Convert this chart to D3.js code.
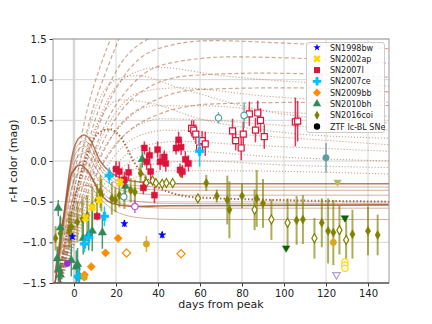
<!DOCTYPE html>
<html lang="en">
<head>
  <meta charset="UTF-8">
  <title>r-H color vs days from peak</title>
  <script src="https://d3js.org/d3.v7.min.js"></script>
  <style>
    body { margin: 0; background: #fff; }
    text { font-family: "DejaVu Sans", sans-serif; fill: #222; }
    .tick text { font-size: 10px; }
    .axis-label { font-size: 11px; }
    .legend text { font-size: 8px; }
  </style>
</head>
<body>
  <svg id="chart" width="432" height="324"></svg>

  <script>
    // axis setup
    const xTicks = [0, 20, 40, 60, 80, 100, 120, 140];
    const yTicks = [-1.5, -1.0, -0.5, 0.0, 0.5, 1.0, 1.5];

    // model curves: [day, r-H]
    const solidModels = [
      [[-9,-1.5],[-5,-0.7],[-1,0.05],[2,0.27],[5,0.32],[8,0.25],[12,0.02],[18,-0.15],[28,-0.25],[45,-0.28],[150,-0.28]],
      [[-9,-1.5],[-5,-0.72],[-1,0.0],[2,0.2],[5,0.25],[8,0.18],[12,-0.03],[18,-0.2],[28,-0.3],[45,-0.32],[150,-0.32]],
      [[-9,-1.5],[-5,-0.75],[-1,-0.05],[2,0.14],[5,0.18],[8,0.1],[12,-0.08],[18,-0.24],[28,-0.33],[45,-0.36],[150,-0.36]],
      [[-9,-1.5],[-5,-0.78],[-1,-0.12],[2,0.06],[5,0.1],[8,0.02],[12,-0.15],[18,-0.3],[28,-0.39],[45,-0.42],[150,-0.42]],
      [[-9,-1.5],[-5,-0.82],[-1,-0.2],[2,-0.03],[5,0.0],[8,-0.08],[12,-0.25],[18,-0.4],[28,-0.49],[45,-0.52],[150,-0.52]],
      [[-9,-1.5],[-5,-0.88],[-1,-0.32],[2,-0.15],[5,-0.12],[8,-0.2],[12,-0.35],[18,-0.48],[28,-0.55],[45,-0.58],[150,-0.58]],
      [[-9,-1.5],[-5,-0.95],[-1,-0.5],[3,-0.32],[7,-0.3],[12,-0.45],[20,-0.62],[32,-0.7],[50,-0.72],[150,-0.72]]
    ];
    const darkSolid = [[-9,-1.38],[-5,-0.7],[-1,-0.15],[3,-0.05],[7,-0.14],[12,-0.38],[18,-0.52],[28,-0.56],[45,-0.55],[150,-0.54]];

    const dashedModels = [
      [[-9,-1.7],[-2,-0.5],[6,0.6],[13,1.2],[19,1.6]],
      [[-9,-1.7],[-1,-0.5],[8,0.55],[16,1.15],[23,1.6]],
      [[-9,-1.7],[0,-0.5],[10,0.5],[20,1.1],[32,1.45],[50,1.6]],
      [[-9,-1.7],[1,-0.5],[12,0.45],[24,1.05],[40,1.38],[65,1.48],[100,1.45],[150,1.38]],
      [[-9,-1.7],[2,-0.5],[14,0.4],[28,0.95],[45,1.2],[75,1.28],[110,1.26],[150,1.2]],
      [[-9,-1.7],[3,-0.5],[16,0.35],[32,0.85],[55,1.05],[90,1.08],[150,1.03]],
      [[-9,-1.7],[4,-0.5],[18,0.3],[35,0.7],[60,0.88],[100,0.9],[150,0.85]],
      [[-9,-1.7],[5,-0.5],[20,0.2],[38,0.55],[65,0.7],[105,0.72],[150,0.68]]
    ];

    const dottedModels = [
      [[-9,-1.7],[0,-0.6],[8,0.2],[16,0.75],[26,1.05],[40,1.15],[70,1.05],[150,0.92]],
      [[-9,-1.7],[-1,-0.5],[6,0.3],[12,0.75],[20,1.0],[30,1.05],[50,0.9],[90,0.62],[150,0.47]],
      [[-9,-1.7],[1,-0.6],[10,0.1],[20,0.6],[32,0.85],[50,0.9],[90,0.8],[150,0.72]],
      [[-9,-1.7],[0,-0.5],[7,0.2],[13,0.55],[22,0.75],[35,0.72],[60,0.52],[100,0.35],[150,0.28]],
      [[-9,-1.7],[2,-0.6],[12,0.05],[24,0.48],[38,0.68],[60,0.68],[100,0.6],[150,0.55]],
      [[-9,-1.7],[3,-0.6],[14,0.0],[27,0.38],[42,0.52],[65,0.5],[110,0.42],[150,0.38]],
      [[-9,-1.7],[4,-0.6],[16,-0.05],[30,0.3],[45,0.38],[70,0.34],[150,0.2]],
      [[-9,-1.7],[5,-0.6],[18,-0.1],[32,0.18],[50,0.24],[80,0.2],[150,0.12]],
      [[-9,-1.7],[6,-0.6],[20,-0.15],[35,0.08],[55,0.12],[90,0.06],[150,0.0]],
      [[-9,-1.7],[7,-0.6],[22,-0.2],[40,-0.03],[60,0.0],[100,-0.05],[150,-0.08]],
      [[-9,-1.7],[8,-0.6],[25,-0.25],[45,-0.12],[70,-0.12],[150,-0.16]]
    ];
    const darkDotted = [[-7,-1.4],[-3,-0.85],[2,-0.3],[8,0.2],[12,0.35],[17,0.39],[22,0.3],[29,-0.03],[36,-0.25],[45,-0.38],[60,-0.45],[150,-0.5]];

    // observed colours: [day, r-H, error]
    const sn1998bw = [[-0.8,-0.93,0.03],[24,-0.77,0.04],[42,-0.91,0.04]];
    const sn2002ap = [[5.5,-0.7,0.05],[8.7,-0.57,0.05],[12,-0.48,0.05],[22,-0.26,0.05]];
    const sn2007I = [[11,-0.68,0.05],[20,-0.1,0.1],[21.6,-0.13,0.12],[24,-0.23,0.1],[26,-0.14,0.1],[33,-0.33,0.08],
      [33.5,0.16,0.08],[34.6,-0.01,0.1],[36,0.07,0.1],[36.5,-0.13,0.1],[38.3,-0.42,0.1],[39.8,0.14,0.1],
      [41,-0.01,0.1],[43,0.05,0.08],[43.7,-0.03,0.1],[48.6,0.16,0.08],[49.8,0.26,0.1],[50.5,-0.11,0.08],
      [51,0.17,0.1],[51.6,-0.13,0.08],[53,0.02,0.1],[54.5,-0.03,0.1]];
    const sn2007ce = [[2,-1.42,0.1],[5,-1.02,0.1],[7,-0.94,0.1],[14.5,-0.68,0.12],[16.8,-0.18,0.1],[59.8,0.12,0.19]];
    const sn2009bb = [[5,-1.4,0],[8.2,-1.3,0],[15,-1.13,0],[21,-0.95,0]];
    const sn2010bh = [[-7.5,-0.58,0.1],[-6.5,-0.82,0.15],[-8,-1.2,0.15],[-7.3,-1.33,0.15],[-6.5,-1.4,0.15],
      [-1.3,-1.22,0.2],[1.1,-1.3,0.2],[1.7,-1.27,0.2],[2.6,-1.42,0.15],[4.4,-0.95,0.2],[7,-0.9,0.2],
      [8.7,-0.86,0.25],[13.5,-0.88,0.2],[24.5,-0.31,0.12],[32.5,0.02,0.1]];
    const sn2016coi = [[-8.8,-0.95,0.15],[-6.5,-0.89,0.2],[-2.3,-0.85,0.2],[-1.3,-0.81,0.2],[1.6,-0.75,0.25],
      [4,-0.71,0.25],[6.3,-0.67,0.25],[8.7,-0.56,0.25],[11,-0.48,0.2],[12.6,-0.38,0.2],[13,-0.42,0.2],
      [18,-0.46,0.2],[19.7,-0.48,0.15],[21.6,-0.42,0.15],[24,-0.44,0.15],[27,-0.36,0.15],[29,-0.38,0.15],
      [31.7,-0.15,0.12],[34,-0.27,0.1],[51,-0.15,0.05],[63,-0.27,0.1],[68,-0.43,0.08],[73,-0.48,0.3],
      [74,-0.6,0.35],[80,-0.43,0.15],[87,-0.46,0.35],[90,-0.52,0.3],[106,-0.73,0.3],[109,-0.72,0.3],
      [118,-0.76,0.3],[121,-0.86,0.4],[123.5,-0.88,0.4],[132.6,-0.9,0.3],[140,-0.86,0.3],[144.6,-0.91,0.25]];

    // ZTF Ic-BL objects (open markers), coloured per object
    const ztfRed = [[56,0.4,0.1],[57,0.38,0.12],[58,0.33,0.12],[59.8,0.16,0.1],[61,0.25,0.12],[62.5,0.21,0.15],
      [75.5,0.37,0.15],[77,0.25,0.12],[79.6,0.16,0.15],[80.6,0.33,0.15],[83.5,0.58,0.15],[86.4,0.38,0.15],
      [87.5,0.59,0.15],[88.8,0.5,0.15],[90.6,0.3,0.15],[105.4,0.48,0.3],[106.5,0.49,0.25]];
    const ztfTeal = [[23.7,-0.44,0.05],[68.8,0.53,0.07],[81,0.56,0.15]];
    const ztfTealFilled = [[120,0.04,0.18]];
    const ztfOlive = [[34.4,-0.27,0.03],[37.4,-0.24,0.03],[39,-0.27,0.03],[42,-0.28,0.03],[44,-0.27,0.03],
      [47,-0.27,0.03],[59,-0.46,0.05],[86,-0.6,0.25],[94,-0.72,0.25],[101.7,-0.76,0.3],[114.5,-0.95,0.25],
      [126.4,-0.85,0.3],[129.6,-0.97,0.25]];
    const ztfOrange = [[25,-1.13,0],[51,-1.14,0]];
    const ztfPurple = [[29,-0.56,0.08]];
    const ztfPurpleFilled = [[-3.2,-1.26,0.04]];
    const ztfGold = [[4.9,-1.43,0.05],[34.5,-1.02,0.1],[123.5,-1.0,0.06]];
    const ztfGoldOpen = [[129,-1.24,0],[129,-1.28,0],[129,-1.32,0]];
    const limGreen = [[101,-1.07],[129,-0.7]];
    const limKhaki = [[125.5,-0.26],[132.6,1.18]];
    const limLavender = [[125,-1.4],[117,1.03]];

    const legendNames = ["SN1998bw","SN2002ap","SN2007I","SN2007ce","SN2009bb","SN2010bh","SN2016coi","ZTF Ic-BL SNe"];

    const W = 432, H = 324;
    const m = { left: 53, right: 43, top: 39, bottom: 41 };
    const svg = d3.select("#chart");

    const x = d3.scaleLinear().domain([-10, 150]).range([m.left, W - m.right]);
    const y = d3.scaleLinear().domain([-1.5, 1.5]).range([H - m.bottom, m.top]);

    svg.append("defs").append("clipPath").attr("id", "plotclip")
      .append("rect").attr("x", m.left).attr("y", m.top)
      .attr("width", W - m.left - m.right).attr("height", H - m.top - m.bottom);

    // grid
    const grid = svg.append("g");
    grid.selectAll(".gx").data(xTicks).enter().append("line")
      .attr("x1", d => x(d)).attr("x2", d => x(d))
      .attr("y1", m.top).attr("y2", H - m.bottom)
      .attr("stroke", "#d6d6d6").attr("stroke-width", d => d === 0 ? 2.5 : 1);
    grid.selectAll(".gy").data(yTicks).enter().append("line")
      .attr("x1", m.left).attr("x2", W - m.right)
      .attr("y1", d => y(d)).attr("y2", d => y(d))
      .attr("stroke", "#d6d6d6").attr("stroke-width", 1);

    const line = d3.line().x(d => x(d[0])).y(d => y(d[1])).curve(d3.curveMonotoneX);
    const models = svg.append("g").attr("clip-path", "url(#plotclip)");
    const brown = "#a0522d";

    models.selectAll(".dashed").data(dashedModels).enter().append("path")
      .attr("d", line).attr("fill", "none").attr("stroke", brown)
      .attr("stroke-opacity", 0.5).attr("stroke-width", 1.2).attr("stroke-dasharray", "4,2.5");
    models.selectAll(".dotted").data(dottedModels).enter().append("path")
      .attr("d", line).attr("fill", "none").attr("stroke", brown)
      .attr("stroke-opacity", 0.5).attr("stroke-width", 1.1).attr("stroke-dasharray", "1.2,1.8");
    models.selectAll(".solid").data(solidModels).enter().append("path")
      .attr("d", line).attr("fill", "none").attr("stroke", brown)
      .attr("stroke-opacity", (d, i) => i === 0 ? 0.75 : 0.45).attr("stroke-width", (d, i) => i === 0 ? 1.5 : 1);
    models.append("path").datum(darkSolid)
      .attr("d", line).attr("fill", "none").attr("stroke", brown)
      .attr("stroke-opacity", 0.85).attr("stroke-width", 1.6);
    models.append("path").datum(darkDotted)
      .attr("d", line).attr("fill", "none").attr("stroke", brown)
      .attr("stroke-opacity", 0.85).attr("stroke-width", 2).attr("stroke-dasharray", "1.5,2");

    // marker helpers
    const thinDiamond = "M0,-4.5L2.6,0L0,4.5L-2.6,0Z";
    const shape = {
      star: d3.symbol().type(d3.symbolStar).size(16)(),
      x: d3.symbol().type(d3.symbolCross).size(34)(),
      square: d3.symbol().type(d3.symbolSquare).size(36)(),
      plus: d3.symbol().type(d3.symbolCross).size(40)(),
      diamond: d3.symbol().type(d3.symbolSquare).size(34)(),
      tri: d3.symbol().type(d3.symbolTriangle).size(30)(),
      thin: thinDiamond,
      circle: d3.symbol().type(d3.symbolCircle).size(32)(),
      tridown: d3.symbol().type(d3.symbolTriangle).size(24)()
    };
    const rot = { x: 45, diamond: 45, tridown: 180 };

    const pts = svg.append("g").attr("clip-path", "url(#plotclip)");

    function series(data, color, kind, opts = {}) {
      const g = pts.append("g");
      g.selectAll("line").data(data.filter(d => d[2] > 0)).enter().append("line")
        .attr("x1", d => x(d[0])).attr("x2", d => x(d[0]))
        .attr("y1", d => y(d[1] - d[2])).attr("y2", d => y(d[1] + d[2]))
        .attr("stroke", opts.errColor || color).attr("stroke-opacity", opts.errOpacity || 0.85)
        .attr("stroke-width", opts.errWidth || 1.5);
      g.selectAll("path").data(data).enter().append("path")
        .attr("d", shape[kind])
        .attr("transform", d => `translate(${x(d[0])},${y(d[1])}) rotate(${rot[kind] || 0})`)
        .attr("fill", opts.open ? "#fff" : color)
        .attr("stroke", color).attr("stroke-width", opts.open ? 1.2 : 0.5);
    }

    series(sn2016coi, "#808000", "thin", { errOpacity: 0.65, errWidth: 2 });
    series(ztfOlive, "#808000", "thin", { open: true, errOpacity: 0.65, errWidth: 2 });
    series(sn2010bh, "#2e8b57", "tri", { errWidth: 1.5 });
    series(sn2007I, "#dc143c", "square");
    series(ztfRed, "#dc143c", "square", { open: true });
    series(sn2007ce, "#00bfff", "plus");
    series(sn2002ap, "#ffd700", "x");
    series(sn2009bb, "#ff8c00", "diamond");
    series(ztfOrange, "#ff8c00", "diamond", { open: true });
    series(sn1998bw, "#0000ff", "star");
    series(ztfTeal, "#5f9ea0", "circle", { open: true });
    series(ztfTealFilled, "#5f9ea0", "circle");
    series(ztfPurple, "#ba55d3", "circle", { open: true });
    series(ztfPurpleFilled, "#9932cc", "circle");
    series(ztfGold, "#daa520", "circle");
    series(ztfGoldOpen, "#ffd700", "circle", { open: true });
    series(limGreen, "#006400", "tridown");
    series(limKhaki, "#bdb76b", "tridown");
    series(limLavender, "#b19cd9", "tridown", { open: true });

    // axes
    const xAxis = svg.append("g").attr("transform", `translate(0,${H - m.bottom})`)
      .call(d3.axisBottom(x).tickValues(xTicks).tickSize(3.5).tickPadding(3));
    const yAxis = svg.append("g").attr("transform", `translate(${m.left},0)`)
      .call(d3.axisLeft(y).tickValues(yTicks).tickFormat(d3.format(".1f")).tickSize(3.5).tickPadding(3));
    [xAxis, yAxis].forEach(a => {
      a.select(".domain").remove();
      a.selectAll(".tick line").attr("stroke", "#333");
    });

    // spines
    svg.append("rect").attr("x", m.left).attr("y", m.top)
      .attr("width", W - m.left - m.right).attr("height", H - m.top - m.bottom)
      .attr("fill", "none").attr("stroke", "#999").attr("stroke-width", 1);
    svg.append("line").attr("x1", m.left).attr("x2", W - m.right)
      .attr("y1", H - m.bottom).attr("y2", H - m.bottom)
      .attr("stroke", "#333").attr("stroke-width", 1);

    svg.append("text").attr("class", "axis-label")
      .attr("x", (m.left + W - m.right) / 2).attr("y", 308)
      .attr("text-anchor", "middle").text("days from peak");
    svg.append("text").attr("class", "axis-label")
      .attr("transform", `translate(17,${(m.top + H - m.bottom) / 2}) rotate(-90)`)
      .attr("text-anchor", "middle").text("r-H color (mag)");

    // legend
    const legend = svg.append("g").attr("class", "legend");
    legend.append("rect").attr("x", 306.5).attr("y", 42.5).attr("width", 78).attr("height", 90)
      .attr("rx", 2.5).attr("fill", "#fff").attr("fill-opacity", 0.85)
      .attr("stroke", "#ccc").attr("stroke-width", 1);
    const legKinds = [
      ["star", "#0000ff"], ["x", "#ffd700"], ["square", "#dc143c"], ["plus", "#00bfff"],
      ["diamond", "#ff8c00"], ["tri", "#2e8b57"], ["thin", "#808000"], ["circle", "#000"]
    ];
    const ly = d3.scaleLinear().domain([0, 7]).range([47.5, 126.5]);
    const items = legend.selectAll(".item").data(legendNames).enter().append("g")
      .attr("transform", (d, i) => `translate(0,${ly(i)})`);
    items.append("path")
      .attr("d", (d, i) => shape[legKinds[i][0]])
      .attr("transform", (d, i) => `translate(317,0) rotate(${rot[legKinds[i][0]] || 0})`)
      .attr("fill", (d, i) => legKinds[i][1]);
    items.append("text").attr("x", 330).attr("y", 3).text(d => d);
  </script>
</body>
</html>
